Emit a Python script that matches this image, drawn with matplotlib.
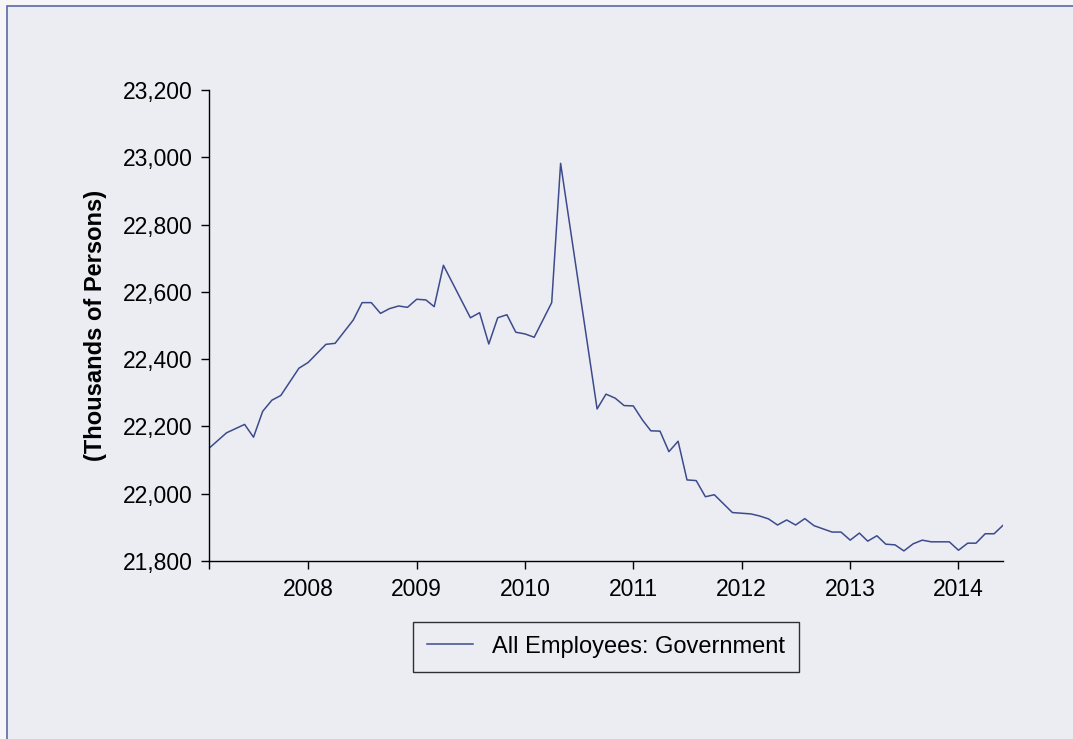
import pandas as pd
import matplotlib.pyplot as plt
import matplotlib.dates as mdates
from matplotlib.patches import Rectangle
from matplotlib.ticker import FuncFormatter

plt.rcParams['font.family'] = ['Liberation Sans', 'DejaVu Sans']

# monthly readings (thousands of persons); months lying on straight runs are left out
months = [
    "2007-02", "2007-04", "2007-06", "2007-07", "2007-08", "2007-09", "2007-10",
    "2007-12", "2008-01", "2008-03", "2008-04", "2008-06", "2008-07", "2008-08",
    "2008-09", "2008-10", "2008-11", "2008-12", "2009-01", "2009-02", "2009-03",
    "2009-04", "2009-07", "2009-08", "2009-09", "2009-10", "2009-11", "2009-12",
    "2010-01", "2010-02", "2010-04", "2010-05", "2010-09", "2010-10", "2010-11",
    "2010-12", "2011-01", "2011-02", "2011-03", "2011-04", "2011-05", "2011-06",
    "2011-07", "2011-08", "2011-09", "2011-10", "2011-12", "2012-02", "2012-03",
    "2012-04", "2012-05", "2012-06", "2012-07", "2012-08", "2012-09", "2012-11",
    "2012-12", "2013-01", "2013-02", "2013-03", "2013-04", "2013-05", "2013-06",
    "2013-07", "2013-08", "2013-09", "2013-10", "2013-11", "2013-12", "2014-01",
    "2014-02", "2014-03", "2014-04", "2014-05", "2014-06",
]
government = [
    22135, 22181, 22206, 22168, 22245, 22278, 22292,
    22373, 22390, 22444, 22447, 22516, 22568, 22568,
    22536, 22550, 22558, 22554, 22578, 22576, 22556,
    22679, 22523, 22538, 22445, 22523, 22532, 22480,
    22475, 22465, 22568, 22982, 22252, 22296, 22284,
    22262, 22261, 22219, 22187, 22186, 22125, 22156,
    22041, 22039, 21991, 21997, 21944, 21940, 21934,
    21925, 21907, 21922, 21907, 21926, 21905, 21886,
    21886, 21862, 21883, 21859, 21875, 21850, 21848,
    21830, 21851, 21862, 21857, 21857, 21857, 21832,
    21853, 21853, 21881, 21881, 21907,
]
series_label = "All Employees: Government"
y_ticks = [21800, 22000, 22200, 22400, 22600, 22800, 23000, 23200]

dates = pd.to_datetime(months)

bg = "#ecedf3"
line_col = "#3d4b8c"

fig = plt.figure(figsize=(10.73, 7.39), dpi=100, facecolor="#f6f6f9")
W, H = 1073, 739

# panel with blue frame (runs off right and bottom edges)
fig.patches.append(Rectangle((7 / W, -0.05), 1.1, 1.05 - 6 / H, transform=fig.transFigure,
                             facecolor=bg, edgecolor="#5b68a6", linewidth=1.2, zorder=-5))

ax = fig.add_axes([209 / W, 1 - 561 / H, (1003.3 - 209) / W, (561 - 90) / H])
ax.patch.set_alpha(0)

ax.plot(dates, government, color=line_col, linewidth=1.1, label=series_label)

ax.set_xlim(dates[0], dates[-1])
ax.set_ylim(21800, 23200)
ax.set_yticks(y_ticks)
ax.yaxis.set_major_formatter(FuncFormatter(lambda v, p: f"{int(v):,}"))
ax.xaxis.set_major_locator(mdates.YearLocator())
ax.xaxis.set_major_formatter(mdates.DateFormatter("%Y"))
ax.set_xticks([mdates.date2num(dates[0])], minor=True)

for s in ["top", "right"]:
    ax.spines[s].set_visible(False)
for s in ["left", "bottom"]:
    ax.spines[s].set_linewidth(1.0)
    ax.spines[s].set_color("black")

ax.tick_params(axis="both", which="both", direction="out", length=6, width=1.0,
               labelsize=16.5, pad=6, colors="black")

ax.set_ylabel("(Thousands of Persons)", fontsize=17, fontweight="bold", labelpad=11)

leg = fig.legend(loc="center", bbox_to_anchor=(606 / W, 1 - 646.7 / H), fontsize=17,
                 frameon=True, fancybox=False, edgecolor="black", handlelength=1.95,
                 handletextpad=0.78, borderpad=0.6, borderaxespad=0)
leg.get_frame().set_facecolor(bg)
leg.get_frame().set_linewidth(1.0)

fig.savefig("out.png", dpi=100, facecolor=fig.get_facecolor())
